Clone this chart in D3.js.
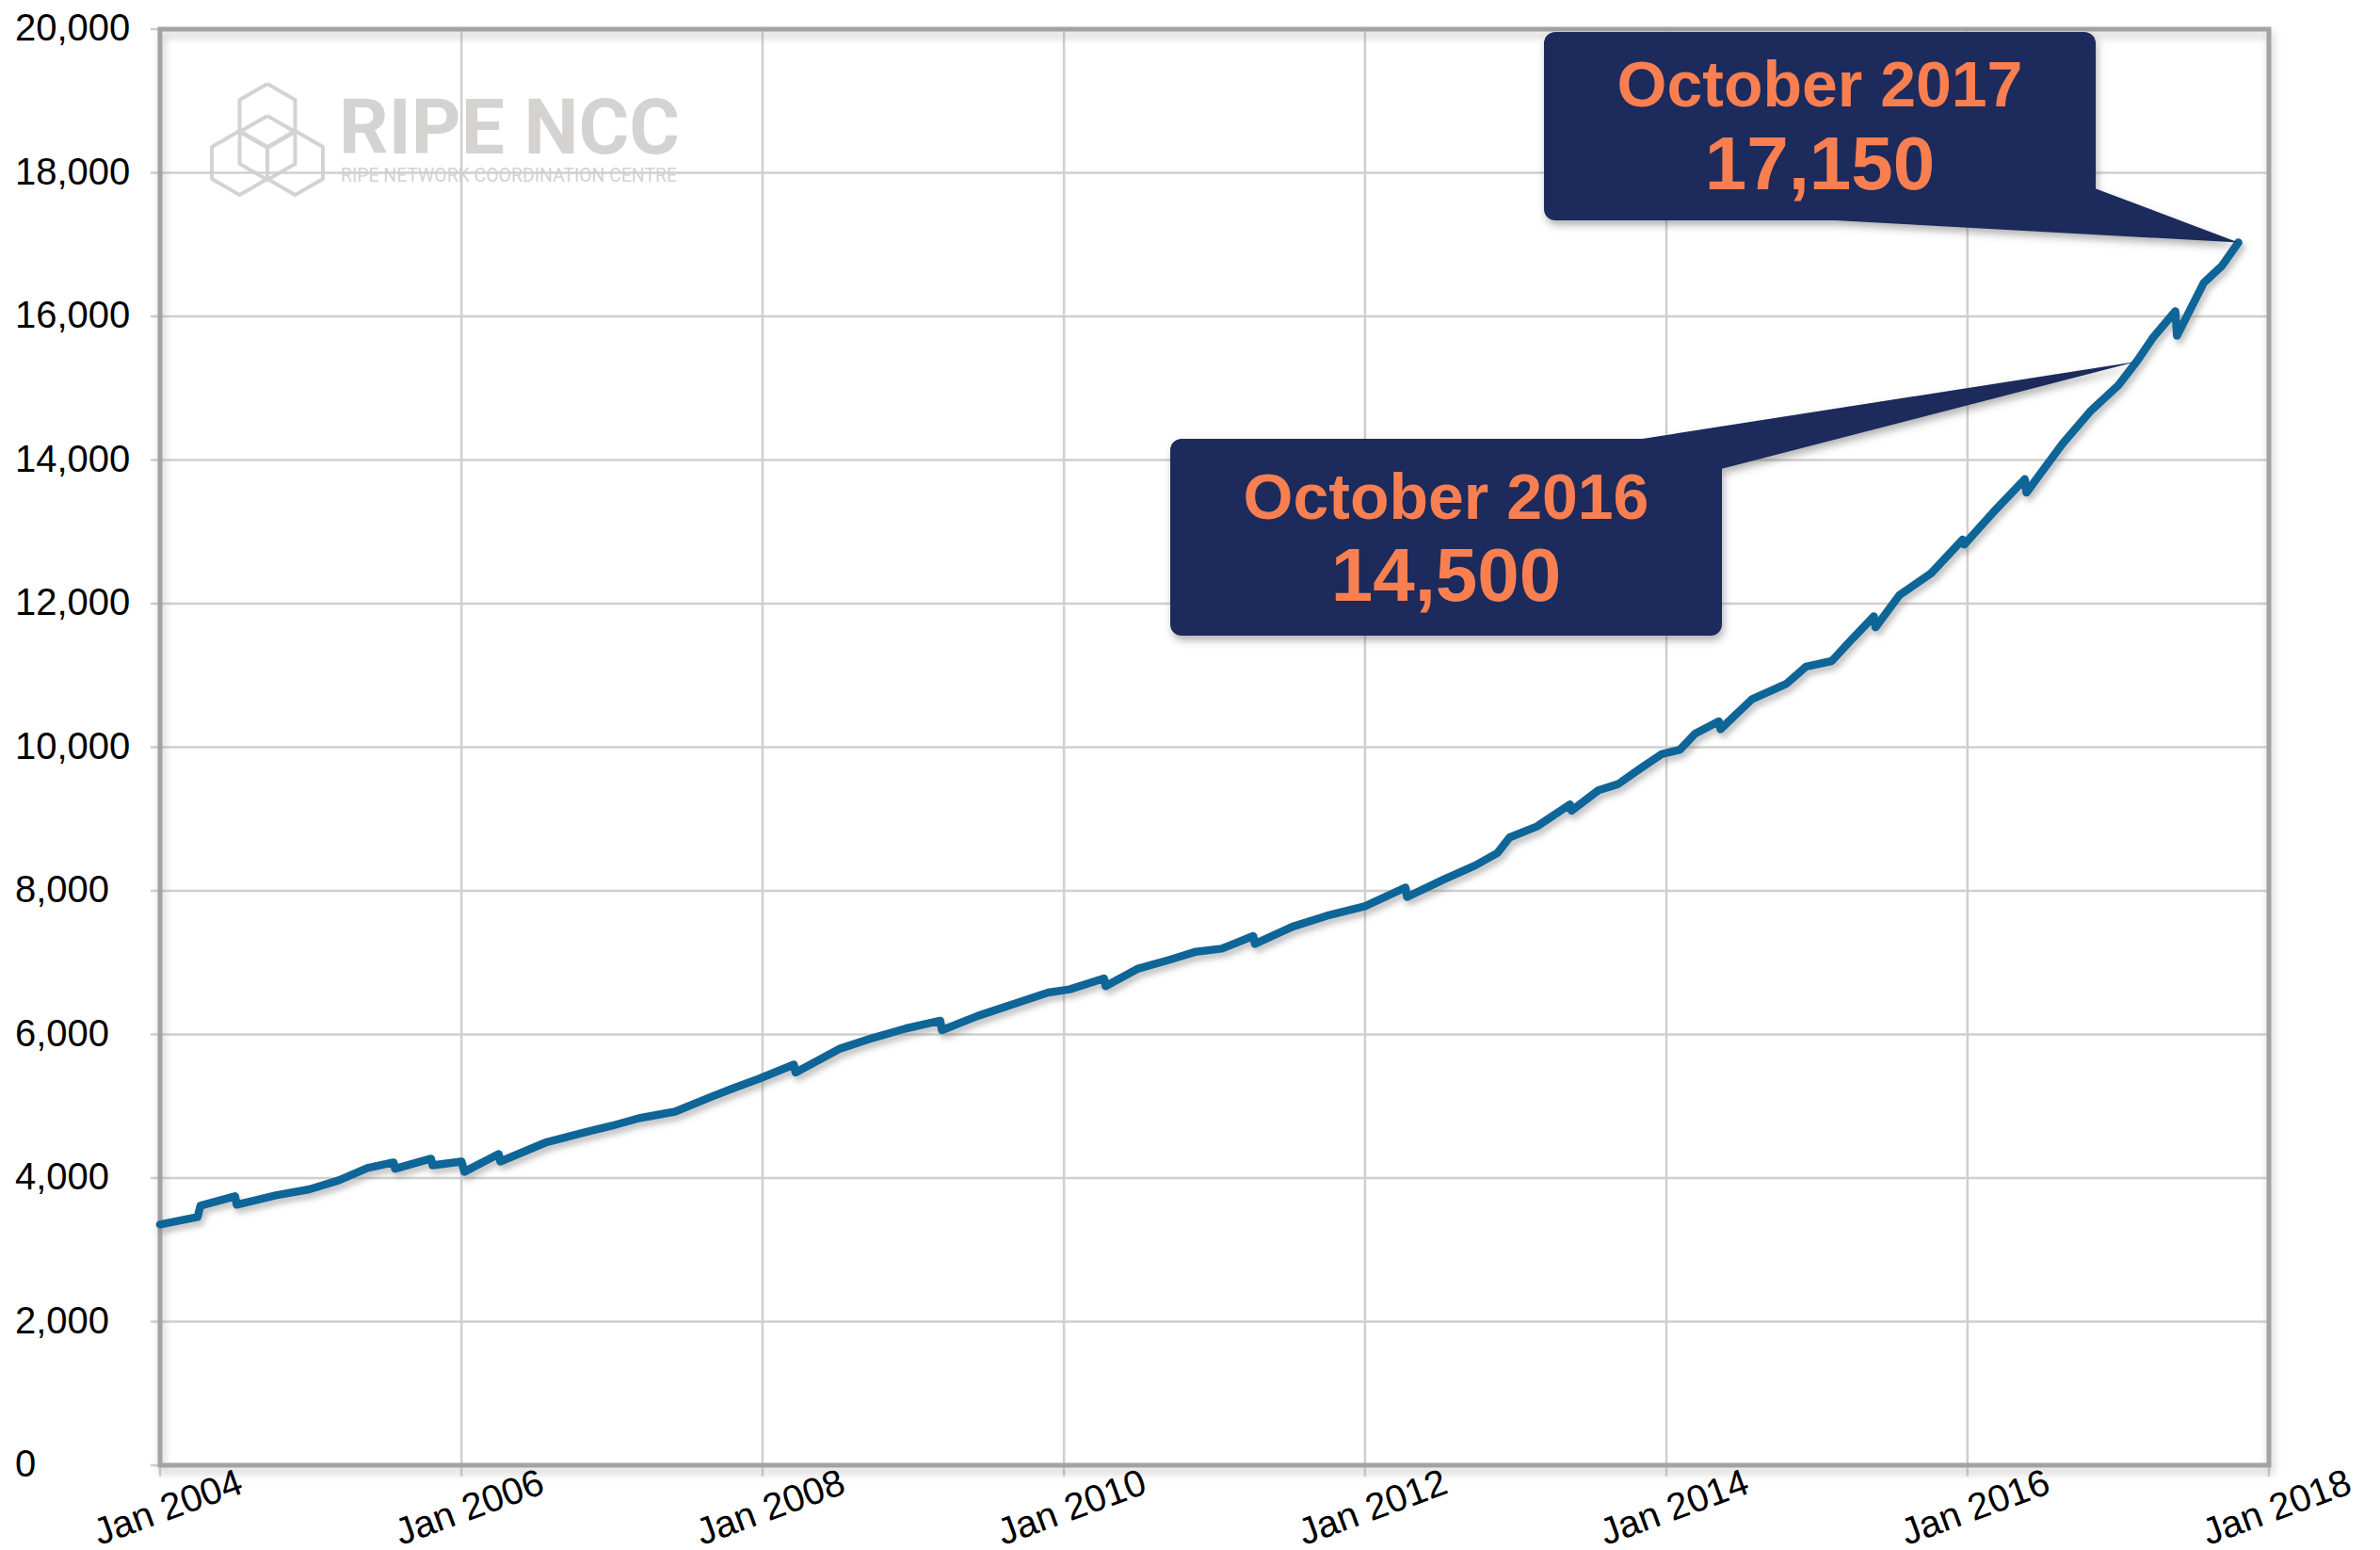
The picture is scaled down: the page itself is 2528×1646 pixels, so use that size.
<!DOCTYPE html>
<html>
<head>
<meta charset="utf-8">
<script src="https://cdn.jsdelivr.net/npm/d3@7"></script>
<style>
  body { margin: 0; background: #fff; }
  svg { display: block; }
</style>
</head>
<body>
<div id="chart"></div>
<script>
// Members over time, the small drops are kept as close pairs
const dates = [
  "2004-01-01", "2004-04-01", "2004-04-08", "2004-07-01", "2004-07-05", "2004-10-08", "2004-12-28",
  "2005-03-10", "2005-05-18", "2005-07-20", "2005-07-24", "2005-10-19", "2005-10-23",
  "2006-01-01", "2006-01-08", "2006-04-01", "2006-04-05", "2006-07-23", "2006-10-30",
  "2007-01-01", "2007-03-07", "2007-06-03", "2007-08-29", "2007-10-23", "2007-12-24",
  "2008-03-17", "2008-03-21", "2008-07-05", "2008-09-24", "2008-12-13",
  "2009-03-07", "2009-03-11", "2009-06-06", "2009-09-16", "2009-11-24",
  "2010-01-15", "2010-04-08", "2010-04-12", "2010-06-28", "2010-09-16", "2010-11-17",
  "2011-01-19", "2011-04-05", "2011-04-09", "2011-07-09", "2011-10-01",
  "2012-01-01", "2012-04-08", "2012-04-12", "2012-07-09", "2012-09-24", "2012-11-17", "2012-12-17",
  "2013-02-21", "2013-05-12", "2013-05-16", "2013-07-20", "2013-09-06", "2013-10-30", "2013-12-20",
  "2014-02-03", "2014-03-11", "2014-05-08", "2014-05-12", "2014-07-27", "2014-10-19", "2014-12-06",
  "2015-02-06", "2015-03-18", "2015-05-19", "2015-05-23", "2015-07-20", "2015-10-05", "2015-12-20", "2015-12-24",
  "2016-03-10", "2016-05-19", "2016-05-23", "2016-08-18", "2016-10-27",
  "2017-01-01", "2017-02-17", "2017-03-25", "2017-05-19", "2017-05-23", "2017-07-27", "2017-09-09", "2017-10-19"
];
const members = [
  3353, 3458, 3615, 3746, 3628, 3759, 3842,
  3969, 4139, 4217, 4130, 4270, 4178,
  4230, 4087, 4335, 4230, 4492, 4641,
  4728, 4833, 4925, 5130, 5252, 5383,
  5580, 5470, 5798, 5950, 6082,
  6191, 6060, 6257, 6453, 6584,
  6628, 6781, 6672, 6912, 7043, 7152,
  7195, 7370, 7260, 7500, 7653,
  7784, 8046, 7915, 8155, 8352, 8526, 8745,
  8897, 9203, 9116, 9400, 9487, 9705, 9902,
  9967, 10186, 10360, 10251, 10666, 10884, 11124,
  11200, 11451, 11823, 11670, 12119, 12423, 12891, 12822,
  13312, 13733, 13546, 14224, 14691,
  15042, 15393, 15697, 16071, 15730, 16468, 16703, 17030
];

const yTicks = [0, 2000, 4000, 6000, 8000, 10000, 12000, 14000, 16000, 18000, 20000];
const xTicks = ["2004-01-01", "2006-01-01", "2008-01-01", "2010-01-01", "2012-01-01", "2014-01-01", "2016-01-01", "2018-01-01"];

// callouts
const calloutTitles = ["October 2016", "October 2017"];
const calloutValues = ["14,500", "17,150"];
const calloutTipDates = ["2017-02-14", "2017-10-19"];
const calloutTipValues = [15370, 17030];

const width = 2528;
const height = 1646;
const margin = { top: 31, right: 118, bottom: 90, left: 170 };

const parse = d3.timeParse("%Y-%m-%d");
const series = dates.map((d, i) => ({ date: parse(d), value: members[i] }));

const x = d3.scaleTime()
    .domain([parse("2004-01-01"), parse("2018-01-01")])
    .range([margin.left, width - margin.right]);
const y = d3.scaleLinear()
    .domain([0, 20000])
    .range([height - margin.bottom, margin.top]);

const svg = d3.select("#chart").append("svg")
    .attr("width", width)
    .attr("height", height)
    .style("font-family", "'Liberation Sans', Arial, Helvetica, sans-serif");

const defs = svg.append("defs");
defs.append("filter").attr("id", "lineShadow")
    .attr("x", "-5%").attr("y", "-5%").attr("width", "110%").attr("height", "110%")
    .append("feDropShadow")
    .attr("dx", 3).attr("dy", 5).attr("stdDeviation", 3)
    .attr("flood-color", "#777").attr("flood-opacity", 0.45);
defs.append("filter").attr("id", "frameShadow")
    .attr("x", "-2%").attr("y", "-2%").attr("width", "104%").attr("height", "106%")
    .append("feDropShadow")
    .attr("dx", 2).attr("dy", 6).attr("stdDeviation", 4)
    .attr("flood-color", "#888").attr("flood-opacity", 0.45);
defs.append("filter").attr("id", "boxShadow")
    .attr("x", "-5%").attr("y", "-5%").attr("width", "115%").attr("height", "120%")
    .append("feDropShadow")
    .attr("dx", 2).attr("dy", 5).attr("stdDeviation", 4)
    .attr("flood-color", "#555").attr("flood-opacity", 0.45);

const x0 = margin.left, x1 = width - margin.right;
const y0 = margin.top, y1 = height - margin.bottom;

// watermark logo (under the grid)
const logoColor = "#d5d2d2";
const logo = svg.append("g");
const hex = (cx, cy, r) => d3.range(7).map(i => {
    const a = Math.PI / 3 * i - Math.PI / 2;
    return [cx + r * Math.cos(a), cy + r * Math.sin(a)];
});
[[284, 123], [284, 157], [254.5, 173], [313.5, 173]].forEach(c => {
    logo.append("path")
        .attr("d", d3.line()(hex(c[0], c[1], 34)))
        .attr("fill", "none")
        .attr("stroke", logoColor)
        .attr("stroke-width", 4)
        .attr("stroke-linejoin", "round");
});
logo.append("text")
    .attr("x", 360).attr("y", 163)
    .attr("textLength", 362).attr("lengthAdjust", "spacingAndGlyphs")
    .attr("font-family", "Roboto, 'Liberation Sans', sans-serif")
    .attr("font-weight", "bold").attr("font-size", 81)
    .attr("fill", logoColor)
    .text("RIPE NCC");
logo.append("text")
    .attr("x", 362).attr("y", 193)
    .attr("textLength", 357).attr("lengthAdjust", "spacingAndGlyphs")
    .attr("font-family", "Roboto, 'Liberation Sans', sans-serif")
    .attr("font-size", 20)
    .attr("fill", logoColor)
    .text("RIPE NETWORK COORDINATION CENTRE");

// grid
svg.append("g")
    .selectAll("line")
    .data(yTicks)
    .join("line")
    .attr("x1", x0 - 10).attr("x2", x1)
    .attr("y1", d => y(d)).attr("y2", d => y(d))
    .attr("stroke", "#cfcfcf").attr("stroke-width", 2.5);
svg.append("g")
    .selectAll("line")
    .data(xTicks)
    .join("line")
    .attr("x1", d => x(parse(d))).attr("x2", d => x(parse(d)))
    .attr("y1", y0).attr("y2", y1 + 12)
    .attr("stroke", "#cfcfcf").attr("stroke-width", 2.5);

// frame
svg.append("rect")
    .attr("x", x0).attr("y", y0)
    .attr("width", x1 - x0).attr("height", y1 - y0)
    .attr("fill", "none")
    .attr("stroke", "#a3a3a3").attr("stroke-width", 5)
    .attr("filter", "url(#frameShadow)");

// y labels
svg.append("g")
    .selectAll("text")
    .data(yTicks)
    .join("text")
    .attr("x", 16)
    .attr("y", d => y(d))
    .attr("dy", "0.3em")
    .attr("font-size", 40)
    .attr("fill", "#000")
    .text(d => d3.format(",")(d));

// x labels
svg.append("g")
    .selectAll("text")
    .data(xTicks)
    .join("text")
    .attr("transform", d => `translate(${x(parse(d)) + 8},${y1 + 44}) rotate(-20)`)
    .attr("text-anchor", "middle")
    .attr("dy", "0.35em")
    .attr("font-size", 40)
    .attr("fill", "#000")
    .text(d => d3.timeFormat("Jan %Y")(parse(d)));

// the line
svg.append("path")
    .datum(series)
    .attr("d", d3.line().x(d => x(d.date)).y(d => y(d.value)))
    .attr("fill", "none")
    .attr("stroke", "#0a6598")
    .attr("stroke-width", 8.5)
    .attr("stroke-linejoin", "round")
    .attr("stroke-linecap", "round")
    .attr("filter", "url(#lineShadow)");

// callout boxes: box rect and tail base points in pixels
const boxes = [
    { x: 1243, y: 466, w: 586, h: 209, base: [[1738, 467], [1828, 498]], titleY: 551, valueY: 638 },
    { x: 1640, y: 34, w: 586, h: 200, base: [[2225, 200], [1931, 233]], titleY: 113, valueY: 201 }
];

boxes.forEach((b, i) => {
    const g = svg.append("g").attr("filter", "url(#boxShadow)");
    const tip = [x(parse(calloutTipDates[i])), y(calloutTipValues[i])];
    g.append("path")
        .attr("d", d3.line()([b.base[0], tip, b.base[1]]) + "Z")
        .attr("fill", "#1c2c5b");
    g.append("rect")
        .attr("x", b.x).attr("y", b.y)
        .attr("width", b.w).attr("height", b.h)
        .attr("rx", 12)
        .attr("fill", "#1c2c5b");
    const cx = b.x + b.w / 2;
    svg.append("text")
        .attr("x", cx).attr("y", b.titleY)
        .attr("text-anchor", "middle")
        .attr("font-weight", "bold").attr("font-size", 68)
        .attr("fill", "#f97f51")
        .text(calloutTitles[i]);
    svg.append("text")
        .attr("x", cx).attr("y", b.valueY)
        .attr("text-anchor", "middle")
        .attr("font-weight", "bold").attr("font-size", 80)
        .attr("fill", "#f97f51")
        .text(calloutValues[i]);
});
</script>
</body>
</html>
